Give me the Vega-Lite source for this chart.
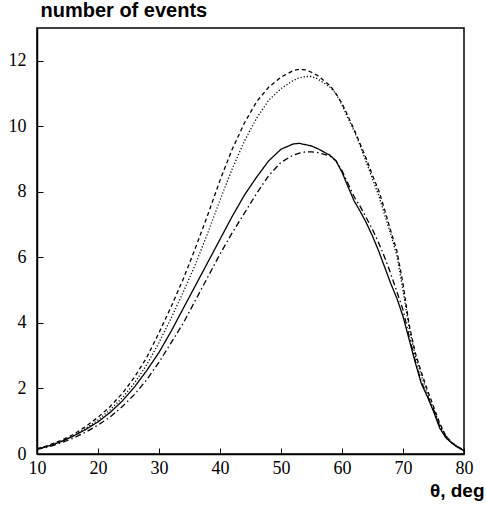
{
  "$schema": "https://vega.github.io/schema/vega-lite/v6.json",
  "autosize": "none",
  "width": 427,
  "height": 426,
  "padding": {"left": 37, "top": 28, "right": 22, "bottom": 55},
  "background": "white",
  "data": {"values": [
    {"t": 10, "s": 0.15, "dd": 0.14, "d": 0.16, "dt": 0.15},
    {"t": 12, "s": 0.25, "dd": 0.22, "d": 0.27, "dt": 0.25},
    {"t": 14, "s": 0.38, "dd": 0.34, "d": 0.42, "dt": 0.39},
    {"t": 16, "s": 0.55, "dd": 0.49, "d": 0.6, "dt": 0.56},
    {"t": 18, "s": 0.75, "dd": 0.67, "d": 0.84, "dt": 0.78},
    {"t": 20, "s": 0.98, "dd": 0.88, "d": 1.12, "dt": 1.04},
    {"t": 22, "s": 1.27, "dd": 1.13, "d": 1.45, "dt": 1.35},
    {"t": 24, "s": 1.62, "dd": 1.45, "d": 1.85, "dt": 1.72},
    {"t": 26, "s": 2.05, "dd": 1.82, "d": 2.35, "dt": 2.17},
    {"t": 28, "s": 2.55, "dd": 2.27, "d": 2.95, "dt": 2.73},
    {"t": 30, "s": 3.1, "dd": 2.8, "d": 3.7, "dt": 3.4},
    {"t": 32, "s": 3.75, "dd": 3.4, "d": 4.5, "dt": 4.15},
    {"t": 34, "s": 4.45, "dd": 4.0, "d": 5.35, "dt": 4.95},
    {"t": 36, "s": 5.15, "dd": 4.7, "d": 6.3, "dt": 5.8},
    {"t": 38, "s": 5.85, "dd": 5.4, "d": 7.3, "dt": 6.75},
    {"t": 40, "s": 6.55, "dd": 6.1, "d": 8.35, "dt": 7.75},
    {"t": 42, "s": 7.25, "dd": 6.75, "d": 9.3, "dt": 8.7},
    {"t": 44, "s": 7.9, "dd": 7.35, "d": 10.1, "dt": 9.55},
    {"t": 46, "s": 8.45, "dd": 7.95, "d": 10.75, "dt": 10.25},
    {"t": 48, "s": 8.95, "dd": 8.5, "d": 11.2, "dt": 10.8},
    {"t": 50, "s": 9.3, "dd": 8.9, "d": 11.5, "dt": 11.15},
    {"t": 52, "s": 9.46, "dd": 9.12, "d": 11.7, "dt": 11.4},
    {"t": 53, "s": 9.48, "dd": 9.18, "d": 11.74, "dt": 11.48},
    {"t": 54, "s": 9.44, "dd": 9.22, "d": 11.72, "dt": 11.52},
    {"t": 55, "s": 9.4, "dd": 9.22, "d": 11.65, "dt": 11.52},
    {"t": 56, "s": 9.32, "dd": 9.2, "d": 11.55, "dt": 11.45},
    {"t": 58, "s": 9.12, "dd": 9.1, "d": 11.25, "dt": 11.2},
    {"t": 59, "s": 8.95, "dd": 8.95, "d": 11.0, "dt": 11.0},
    {"t": 60, "s": 8.6, "dd": 8.65, "d": 10.7, "dt": 10.65},
    {"t": 61, "s": 8.15, "dd": 8.25, "d": 10.3, "dt": 10.25},
    {"t": 62, "s": 7.72, "dd": 7.85, "d": 9.9, "dt": 9.85},
    {"t": 63, "s": 7.4, "dd": 7.55, "d": 9.45, "dt": 9.4},
    {"t": 64, "s": 7.05, "dd": 7.2, "d": 9.0, "dt": 8.9},
    {"t": 65, "s": 6.65, "dd": 6.85, "d": 8.5, "dt": 8.4},
    {"t": 66, "s": 6.2, "dd": 6.45, "d": 8.05, "dt": 7.9},
    {"t": 67, "s": 5.7, "dd": 6.0, "d": 7.45, "dt": 7.3},
    {"t": 68, "s": 5.2, "dd": 5.5, "d": 6.8, "dt": 6.7},
    {"t": 69, "s": 4.75, "dd": 4.95, "d": 6.2, "dt": 6.05},
    {"t": 70, "s": 4.2, "dd": 4.4, "d": 5.2, "dt": 5.0},
    {"t": 71, "s": 3.5, "dd": 3.6, "d": 3.95, "dt": 3.85},
    {"t": 72, "s": 2.8, "dd": 2.85, "d": 3.1, "dt": 3.0},
    {"t": 73, "s": 2.15, "dd": 2.2, "d": 2.5, "dt": 2.4},
    {"t": 74, "s": 1.75, "dd": 1.78, "d": 1.95, "dt": 1.85},
    {"t": 75, "s": 1.3, "dd": 1.35, "d": 1.45, "dt": 1.38},
    {"t": 76, "s": 0.8, "dd": 0.85, "d": 0.95, "dt": 0.9},
    {"t": 77, "s": 0.5, "dd": 0.55, "d": 0.55, "dt": 0.55},
    {"t": 78, "s": 0.33, "dd": 0.35, "d": 0.35, "dt": 0.35},
    {"t": 79, "s": 0.2, "dd": 0.2, "d": 0.22, "dt": 0.22},
    {"t": 80, "s": 0.1, "dd": 0.1, "d": 0.12, "dt": 0.12}
  ]},
  "transform": [{"fold": ["s", "dd", "d", "dt"], "as": ["curve", "events"]}],
  "mark": {"type": "line", "color": "black", "strokeWidth": 1.3, "clip": true},
  "encoding": {
    "x": {"field": "t", "type": "quantitative", "scale": {"domain": [10, 80], "nice": false, "zero": false},
      "axis": {"values": [10, 20, 30, 40, 50, 60, 70, 80], "grid": false, "tickSize": -6, "tickColor": "black", "domainColor": "black", "domainWidth": 1.5, "labelFont": "Liberation Serif", "labelFontSize": 18, "labelColor": "black", "labelPadding": 11, "labelFlush": false,
        "title": "θ, deg", "titleFont": "Liberation Sans", "titleFontSize": 19, "titleFontWeight": "bold", "titleColor": "black", "titleAnchor": "end", "titleAlign": "right", "titleBaseline": "alphabetic", "titleX": 447, "titleY": 42}},
    "y": {"field": "events", "type": "quantitative", "scale": {"domain": [0, 13], "nice": false},
      "axis": {"values": [0, 2, 4, 6, 8, 10, 12], "grid": false, "tickSize": -6, "tickColor": "black", "domainColor": "black", "domainWidth": 1.5, "labelFont": "Liberation Serif", "labelFontSize": 18, "labelColor": "black", "labelPadding": 17, "labelFlush": false,
        "title": "number of events", "titleFont": "Liberation Sans", "titleFontSize": 20, "titleFontWeight": "bold", "titleColor": "black", "titleAngle": 0, "titleAlign": "left", "titleBaseline": "alphabetic", "titleX": 3, "titleY": -12}},
    "strokeDash": {"field": "curve", "type": "nominal", "scale": {"domain": ["s", "dd", "d", "dt"], "range": [[1, 0], [6, 3, 1.5, 3], [4, 3], [1.2, 2]]}, "legend": null}
  },
  "config": {"view": {"stroke": "black", "strokeWidth": 1.5}}
}
